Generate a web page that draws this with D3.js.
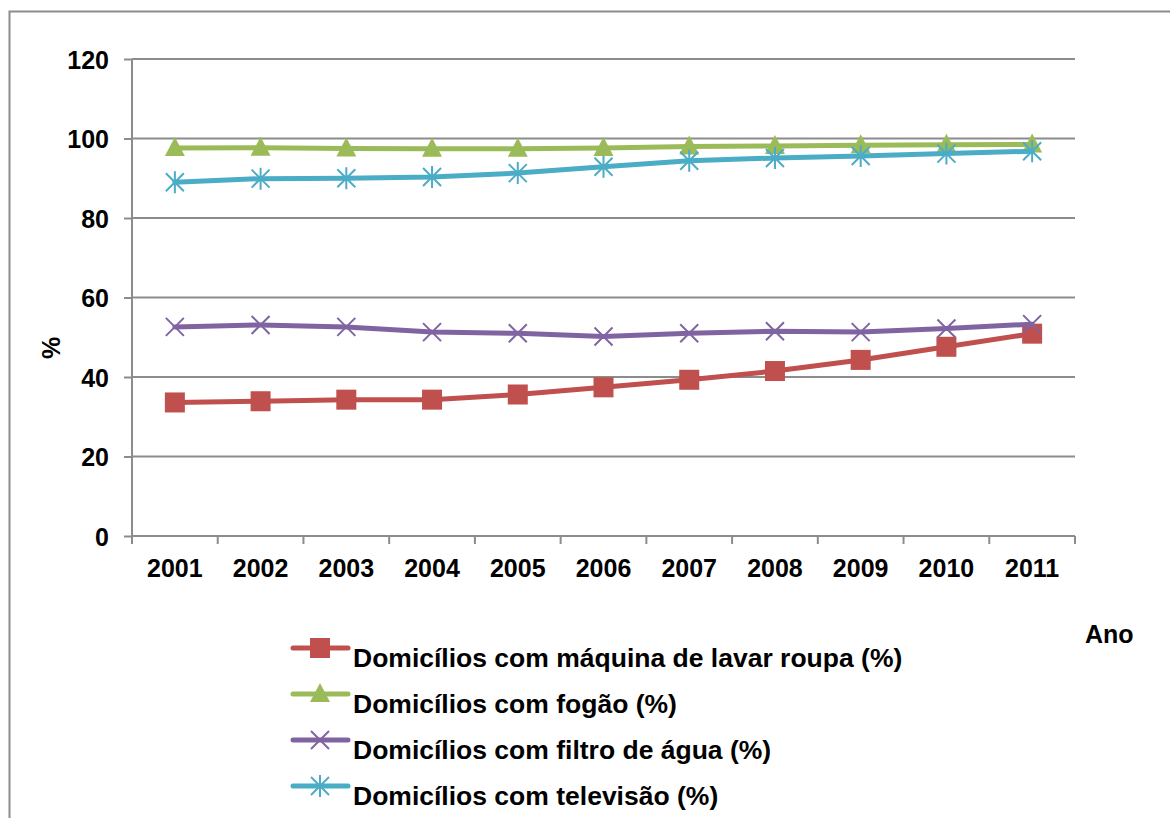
<!DOCTYPE html>
<html lang="pt">
<head>
<meta charset="UTF-8">
<title>Domicílios</title>
<style>
  html, body { margin: 0; height: 100%; background: #fff; }
  svg text { font-family: "Liberation Sans", Arial, sans-serif; font-weight: bold; fill: #000; }
</style>
</head>
<body>
<div class="chart"></div>
<script src="https://d3js.org/d3.v7.min.js"></script>
<script>
var anos = ["2001", "2002", "2003", "2004", "2005", "2006", "2007", "2008", "2009", "2010", "2011"];
var yTicks = [0, 20, 40, 60, 80, 100, 120];

var maquina = [33.6, 33.9, 34.3, 34.3, 35.6, 37.4, 39.3, 41.5, 44.3, 47.6, 50.9];
var fogao = [97.6, 97.7, 97.5, 97.4, 97.4, 97.6, 98.0, 98.1, 98.3, 98.4, 98.5];
var filtro = [52.6, 53.1, 52.6, 51.3, 51.0, 50.2, 51.0, 51.5, 51.3, 52.2, 53.3];
var televisao = [89.0, 89.9, 90.0, 90.3, 91.3, 92.9, 94.4, 95.1, 95.6, 96.2, 96.8];

var seriesNames = [
  "Domicílios com máquina de lavar roupa (%)",
  "Domicílios com fogão (%)",
  "Domicílios com filtro de água (%)",
  "Domicílios com televisão (%)"
];

var series = [
  { name: seriesNames[0], values: maquina, color: "#C0504D", marker: "square" },
  { name: seriesNames[1], values: fogao, color: "#9BBB59", marker: "triangle" },
  { name: seriesNames[2], values: filtro, color: "#8064A2", marker: "x" },
  { name: seriesNames[3], values: televisao, color: "#4BACC6", marker: "star" }
];

var W = 1170, H = 818;
var margin = { top: 59, left: 132, right: 95, bottom: 282 };
var width = W - margin.left - margin.right,
    height = H - margin.top - margin.bottom;

var svg = d3.select(".chart").append("svg")
  .attr("width", W).attr("height", H);

// outer frame
svg.append("rect")
  .attr("x", 9.5).attr("y", 11.5)
  .attr("width", W + 20).attr("height", H + 20)
  .attr("fill", "none").attr("stroke", "#8c8c8c").attr("stroke-width", 2);

var g = svg.append("g").attr("transform", `translate(${margin.left},${margin.top})`);

var x = d3.scaleBand().domain(anos).range([0, width]);
var y = d3.scaleLinear().domain([0, 120]).range([height, 0]);

// gridlines
g.append("g").selectAll("line").data(yTicks.filter(d => d > 0)).join("line")
  .attr("x1", 0).attr("x2", width)
  .attr("y1", d => y(d)).attr("y2", d => y(d))
  .attr("stroke", "#8c8c8c").attr("stroke-width", 2);

// y axis
var yAxis = g.append("g")
  .call(d3.axisLeft(y).tickValues(yTicks).tickSize(8).tickPadding(15));
yAxis.select(".domain").attr("stroke", "#8c8c8c").attr("stroke-width", 2)
  .attr("d", `M0,${height}V0`);
yAxis.selectAll(".tick line").attr("stroke", "#8c8c8c").attr("stroke-width", 2);
yAxis.selectAll("text").style("font-size", "25px").attr("dy", "0.36em");

// x axis: ticks on category boundaries
var xg = g.append("g").attr("transform", `translate(0,${height})`);
xg.append("line").attr("x1", 0).attr("x2", width)
  .attr("stroke", "#8c8c8c").attr("stroke-width", 2);
var bounds = anos.map(a => x(a)).concat([width]);
xg.selectAll("line.tk").data(bounds).join("line").attr("class", "tk")
  .attr("x1", d => d).attr("x2", d => d).attr("y1", 0).attr("y2", 8)
  .attr("stroke", "#8c8c8c").attr("stroke-width", 2);
xg.selectAll("text").data(anos).join("text")
  .attr("x", d => x(d) + x.bandwidth() / 2).attr("y", 41)
  .attr("text-anchor", "middle").style("font-size", "25px").text(d => d);

// axis titles
svg.append("text").attr("transform", "translate(60,348) rotate(-90)")
  .attr("text-anchor", "middle").style("font-size", "25px").text("%");
svg.append("text").attr("x", 1085).attr("y", 643)
  .style("font-size", "25px").text("Ano");

function drawMarker(sel, type, color) {
  if (type === "square") {
    sel.append("rect").attr("x", -10).attr("y", -10).attr("width", 20).attr("height", 20)
      .attr("fill", color);
  } else if (type === "triangle") {
    sel.append("path").attr("d", "M0,-11L10,8L-10,8Z").attr("fill", color);
  } else if (type === "x") {
    sel.append("path").attr("d", "M-9,-9L9,9M-9,9L9,-9")
      .attr("stroke", color).attr("stroke-width", 2).attr("fill", "none");
  } else {
    sel.append("path").attr("d", "M-9,-9L9,9M-9,9L9,-9M0,-11V11")
      .attr("stroke", color).attr("stroke-width", 2).attr("fill", "none");
  }
}

var line = d3.line()
  .x((d, i) => x(anos[i]) + x.bandwidth() / 2)
  .y(d => y(d));

series.forEach(function (s) {
  g.append("path").attr("d", line(s.values))
    .attr("fill", "none").attr("stroke", s.color).attr("stroke-width", 5)
    .attr("stroke-linejoin", "round").attr("stroke-linecap", "round");
  g.selectAll(null).data(s.values).join("g")
    .attr("transform", (d, i) => `translate(${x(anos[i]) + x.bandwidth() / 2},${y(d)})`)
    .each(function () { drawMarker(d3.select(this), s.marker, s.color); });
});

// legend
var legend = svg.append("g").attr("transform", "translate(293,648)");
var items = legend.selectAll("g").data(series).join("g")
  .attr("transform", (d, i) => `translate(0,${i * 46})`);
items.append("line").attr("x1", 0).attr("x2", 55)
  .attr("stroke", d => d.color).attr("stroke-width", 5).attr("stroke-linecap", "round");
items.each(function (d) {
  var m = d3.select(this).append("g").attr("transform", "translate(27,0)");
  drawMarker(m, d.marker, d.color);
});
items.append("text").attr("x", 60).attr("y", 19)
  .style("font-size", "26.5px").text(d => d.name);
</script>
</body>
</html>
